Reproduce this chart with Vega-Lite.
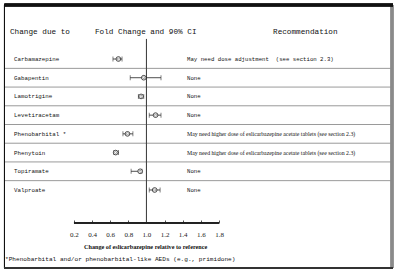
{
  "$schema": "https://vega.github.io/schema/vega-lite/v6.json",
  "width": 400,
  "height": 275,
  "autosize": {"type": "fit", "contains": "padding"},
  "padding": 0,
  "background": "white",
  "config": {"view": {"stroke": null}},
  "resolve": {"axis": {"x": "independent", "y": "independent"}},
  "datasets": {
    "drugs": [
      {"row": 1, "drug": "Carbamazepine", "est": 0.69, "lo": 0.63, "hi": 0.73, "rec": "May need dose adjustment\u00a0\u00a0(see section 2.3)"},
      {"row": 2, "drug": "Gabapentin", "est": 0.97, "lo": 0.82, "hi": 1.16, "rec": "None"},
      {"row": 3, "drug": "Lamotrigine", "est": 0.94, "lo": 0.91, "hi": 0.97, "rec": "None"},
      {"row": 4, "drug": "Levetiracetam", "est": 1.10, "lo": 1.03, "hi": 1.16, "rec": "None"},
      {"row": 5, "drug": "Phenobarbital *", "est": 0.79, "lo": 0.74, "hi": 0.85, "rec": "May need higher dose of eslicarbazepine acetate tablets (see section 2.3)"},
      {"row": 6, "drug": "Phenytoin", "est": 0.66, "lo": 0.64, "hi": 0.69, "rec": "May need higher dose of eslicarbazepine acetate tablets (see section 2.3)"},
      {"row": 7, "drug": "Topiramate", "est": 0.93, "lo": 0.83, "hi": 0.95, "rec": "None"},
      {"row": 8, "drug": "Valproate", "est": 1.09, "lo": 1.03, "hi": 1.15, "rec": "None"}
    ]
  },
  "data": {"name": "drugs"},
  "layer": [
    {
      "transform": [{"filter": "datum.row < 8"}],
      "mark": {"type": "rule", "yOffset": 9.36, "color": "#9a9a9a", "strokeWidth": 1},
      "encoding": {
        "x": {"datum": -0.567, "type": "quantitative", "scale": {"domain": [-0.61655, 3.79724], "nice": false, "zero": false}, "axis": null},
        "x2": {"datum": 3.709},
        "y": {"field": "row", "type": "quantitative", "scale": {"domain": [-2.1527, 12.542], "reverse": true, "nice": false, "zero": false}, "axis": null}
      }
    },
    {
      "mark": {"type": "rule", "color": "#444444", "strokeWidth": 1},
      "encoding": {
        "x": {"datum": 1.0, "type": "quantitative", "scale": {"domain": [-0.61655, 3.79724], "nice": false, "zero": false}, "axis": null},
        "y": {"datum": -0.069, "type": "quantitative", "scale": {"domain": [-2.1527, 12.542], "reverse": true, "nice": false, "zero": false}, "axis": null},
        "y2": {"datum": 9.763}
      }
    },
    {
      "mark": {"type": "rule", "color": "#222222", "strokeWidth": 0.9},
      "encoding": {
        "x": {"datum": 0.2, "type": "quantitative", "scale": {"domain": [-0.61655, 3.79724], "nice": false, "zero": false}, "axis": null},
        "x2": {"datum": 1.8},
        "y": {"datum": 9.763, "type": "quantitative", "scale": {"domain": [-2.1527, 12.542], "reverse": true, "nice": false, "zero": false}, "axis": null}
      }
    },
    {
      "mark": {"type": "rule", "color": "#222222", "strokeWidth": 0.8},
      "encoding": {
        "x": {"field": "lo", "type": "quantitative", "scale": {"domain": [-0.61655, 3.79724], "nice": false, "zero": false}, "axis": null},
        "x2": {"field": "hi"},
        "y": {"field": "row", "type": "quantitative", "scale": {"domain": [-2.1527, 12.542], "reverse": true, "nice": false, "zero": false}, "axis": null}
      }
    },
    {
      "mark": {"type": "tick", "orient": "vertical", "size": 5, "thickness": 0.8, "color": "#222222"},
      "encoding": {
        "x": {"field": "lo", "type": "quantitative", "scale": {"domain": [-0.61655, 3.79724], "nice": false, "zero": false}, "axis": null},
        "y": {"field": "row", "type": "quantitative", "scale": {"domain": [-2.1527, 12.542], "reverse": true, "nice": false, "zero": false}, "axis": null}
      }
    },
    {
      "mark": {"type": "tick", "orient": "vertical", "size": 5, "thickness": 0.8, "color": "#222222"},
      "encoding": {
        "x": {"field": "hi", "type": "quantitative", "scale": {"domain": [-0.61655, 3.79724], "nice": false, "zero": false}, "axis": null},
        "y": {"field": "row", "type": "quantitative", "scale": {"domain": [-2.1527, 12.542], "reverse": true, "nice": false, "zero": false}, "axis": null}
      }
    },
    {
      "mark": {"type": "point", "shape": "circle", "size": 22, "filled": true, "fill": "white", "stroke": "#222222", "strokeWidth": 0.8, "opacity": 1},
      "encoding": {
        "x": {"field": "est", "type": "quantitative", "scale": {"domain": [-0.61655, 3.79724], "nice": false, "zero": false},
          "axis": {"values": [0.2, 0.4, 0.6, 0.8, 1.0, 1.2, 1.4, 1.6, 1.8], "format": ".1f", "domain": false, "grid": false, "title": null, "offset": -52, "tickSize": -3, "tickColor": "#222222", "tickWidth": 0.8, "labelPadding": 10, "labelFont": "Liberation Serif", "labelFontSize": 7, "labelColor": "#222222", "labelFlush": false, "labelOverlap": false}},
        "y": {"field": "row", "type": "quantitative", "scale": {"domain": [-2.1527, 12.542], "reverse": true, "nice": false, "zero": false}, "axis": null}
      }
    },
    {
      "mark": {"type": "point", "shape": "diamond", "size": 6, "filled": false, "stroke": "#222222", "strokeWidth": 0.6},
      "encoding": {
        "x": {"field": "est", "type": "quantitative", "scale": {"domain": [-0.61655, 3.79724], "nice": false, "zero": false}, "axis": null},
        "y": {"field": "row", "type": "quantitative", "scale": {"domain": [-2.1527, 12.542], "reverse": true, "nice": false, "zero": false}, "axis": null}
      }
    },
    {
      "mark": {"type": "text", "align": "left", "baseline": "middle", "font": "Liberation Mono", "fontSize": 5.8, "color": "#111111"},
      "encoding": {
        "x": {"datum": -0.462, "type": "quantitative", "scale": {"domain": [-0.61655, 3.79724], "nice": false, "zero": false}, "axis": null},
        "y": {"field": "row", "type": "quantitative", "scale": {"domain": [-2.1527, 12.542], "reverse": true, "nice": false, "zero": false}, "axis": null},
        "text": {"field": "drug"}
      }
    },
    {
      "transform": [{"filter": "indexof(datum.rec, 'higher') < 0"}],
      "mark": {"type": "text", "align": "left", "baseline": "middle", "font": "Liberation Mono", "fontSize": 5.7, "color": "#111111"},
      "encoding": {
        "x": {"datum": 1.447, "type": "quantitative", "scale": {"domain": [-0.61655, 3.79724], "nice": false, "zero": false}, "axis": null},
        "y": {"field": "row", "type": "quantitative", "scale": {"domain": [-2.1527, 12.542], "reverse": true, "nice": false, "zero": false}, "axis": null},
        "text": {"field": "rec"}
      }
    },
    {
      "transform": [{"filter": "indexof(datum.rec, 'higher') >= 0"}],
      "mark": {"type": "text", "align": "left", "baseline": "middle", "font": "Liberation Serif", "fontSize": 5.8, "color": "#111111"},
      "encoding": {
        "x": {"datum": 1.447, "type": "quantitative", "scale": {"domain": [-0.61655, 3.79724], "nice": false, "zero": false}, "axis": null},
        "y": {"field": "row", "type": "quantitative", "scale": {"domain": [-2.1527, 12.542], "reverse": true, "nice": false, "zero": false}, "axis": null},
        "text": {"field": "rec"}
      }
    },
    {
      "data": {"values": [
        {"label": "Change due to", "pos": -0.5062},
        {"label": "Fold Change and 90% CI", "pos": 0.4317},
        {"label": "Recommendation", "pos": 2.396}
      ]},
      "mark": {"type": "text", "align": "left", "baseline": "middle", "font": "Liberation Mono", "fontSize": 7.7, "color": "#111111"},
      "encoding": {
        "x": {"field": "pos", "type": "quantitative", "scale": {"domain": [-0.61655, 3.79724], "nice": false, "zero": false}, "axis": null},
        "y": {"datum": -0.443, "type": "quantitative", "scale": {"domain": [-2.1527, 12.542], "reverse": true, "nice": false, "zero": false}, "axis": null},
        "text": {"field": "label"}
      }
    },
    {
      "data": {"values": [{"label": "Change of eslicarbazepine relative to reference"}]},
      "mark": {"type": "text", "align": "center", "baseline": "middle", "font": "Liberation Serif", "fontWeight": "bold", "fontSize": 6.2, "color": "#111111"},
      "encoding": {
        "x": {"datum": 0.99, "type": "quantitative", "scale": {"domain": [-0.61655, 3.79724], "nice": false, "zero": false}, "axis": null},
        "y": {"datum": 11.07, "type": "quantitative", "scale": {"domain": [-2.1527, 12.542], "reverse": true, "nice": false, "zero": false}, "axis": null},
        "text": {"field": "label"}
      }
    },
    {
      "data": {"values": [{"label": "*Phenobarbital and/or phenobarbital-like AEDs (e.g., primidone)"}]},
      "mark": {"type": "text", "align": "left", "baseline": "middle", "font": "Liberation Mono", "fontSize": 6.1, "color": "#111111"},
      "encoding": {
        "x": {"datum": -0.561, "type": "quantitative", "scale": {"domain": [-0.61655, 3.79724], "nice": false, "zero": false}, "axis": null},
        "y": {"datum": 11.71, "type": "quantitative", "scale": {"domain": [-2.1527, 12.542], "reverse": true, "nice": false, "zero": false}, "axis": null},
        "text": {"field": "label"}
      }
    },
    {
      "mark": {"type": "rule", "color": "#111111", "strokeWidth": 1},
      "encoding": {
        "x": {"datum": -0.567, "type": "quantitative", "scale": {"domain": [-0.61655, 3.79724], "nice": false, "zero": false}, "axis": null},
        "y": {"datum": -1.886, "type": "quantitative", "scale": {"domain": [-2.1527, 12.542], "reverse": true, "nice": false, "zero": false}, "axis": null},
        "y2": {"datum": 12.168}
      }
    },
    {
      "mark": {"type": "rule", "color": "#8a8a8a", "strokeWidth": 2.5},
      "encoding": {
        "x": {"datum": 3.709, "type": "quantitative", "scale": {"domain": [-0.61655, 3.79724], "nice": false, "zero": false}, "axis": null},
        "y": {"datum": -1.886, "type": "quantitative", "scale": {"domain": [-2.1527, 12.542], "reverse": true, "nice": false, "zero": false}, "axis": null},
        "y2": {"datum": 12.168}
      }
    },
    {
      "mark": {"type": "rule", "color": "#111111", "strokeWidth": 2.5},
      "encoding": {
        "x": {"datum": -0.567, "type": "quantitative", "scale": {"domain": [-0.61655, 3.79724], "nice": false, "zero": false}, "axis": null},
        "x2": {"datum": 3.72},
        "y": {"datum": -1.886, "type": "quantitative", "scale": {"domain": [-2.1527, 12.542], "reverse": true, "nice": false, "zero": false}, "axis": null}
      }
    },
    {
      "mark": {"type": "rule", "color": "#333333", "strokeWidth": 2},
      "encoding": {
        "x": {"datum": -0.567, "type": "quantitative", "scale": {"domain": [-0.61655, 3.79724], "nice": false, "zero": false}, "axis": null},
        "x2": {"datum": 3.72},
        "y": {"datum": 12.168, "type": "quantitative", "scale": {"domain": [-2.1527, 12.542], "reverse": true, "nice": false, "zero": false}, "axis": null}
      }
    }
  ]
}
